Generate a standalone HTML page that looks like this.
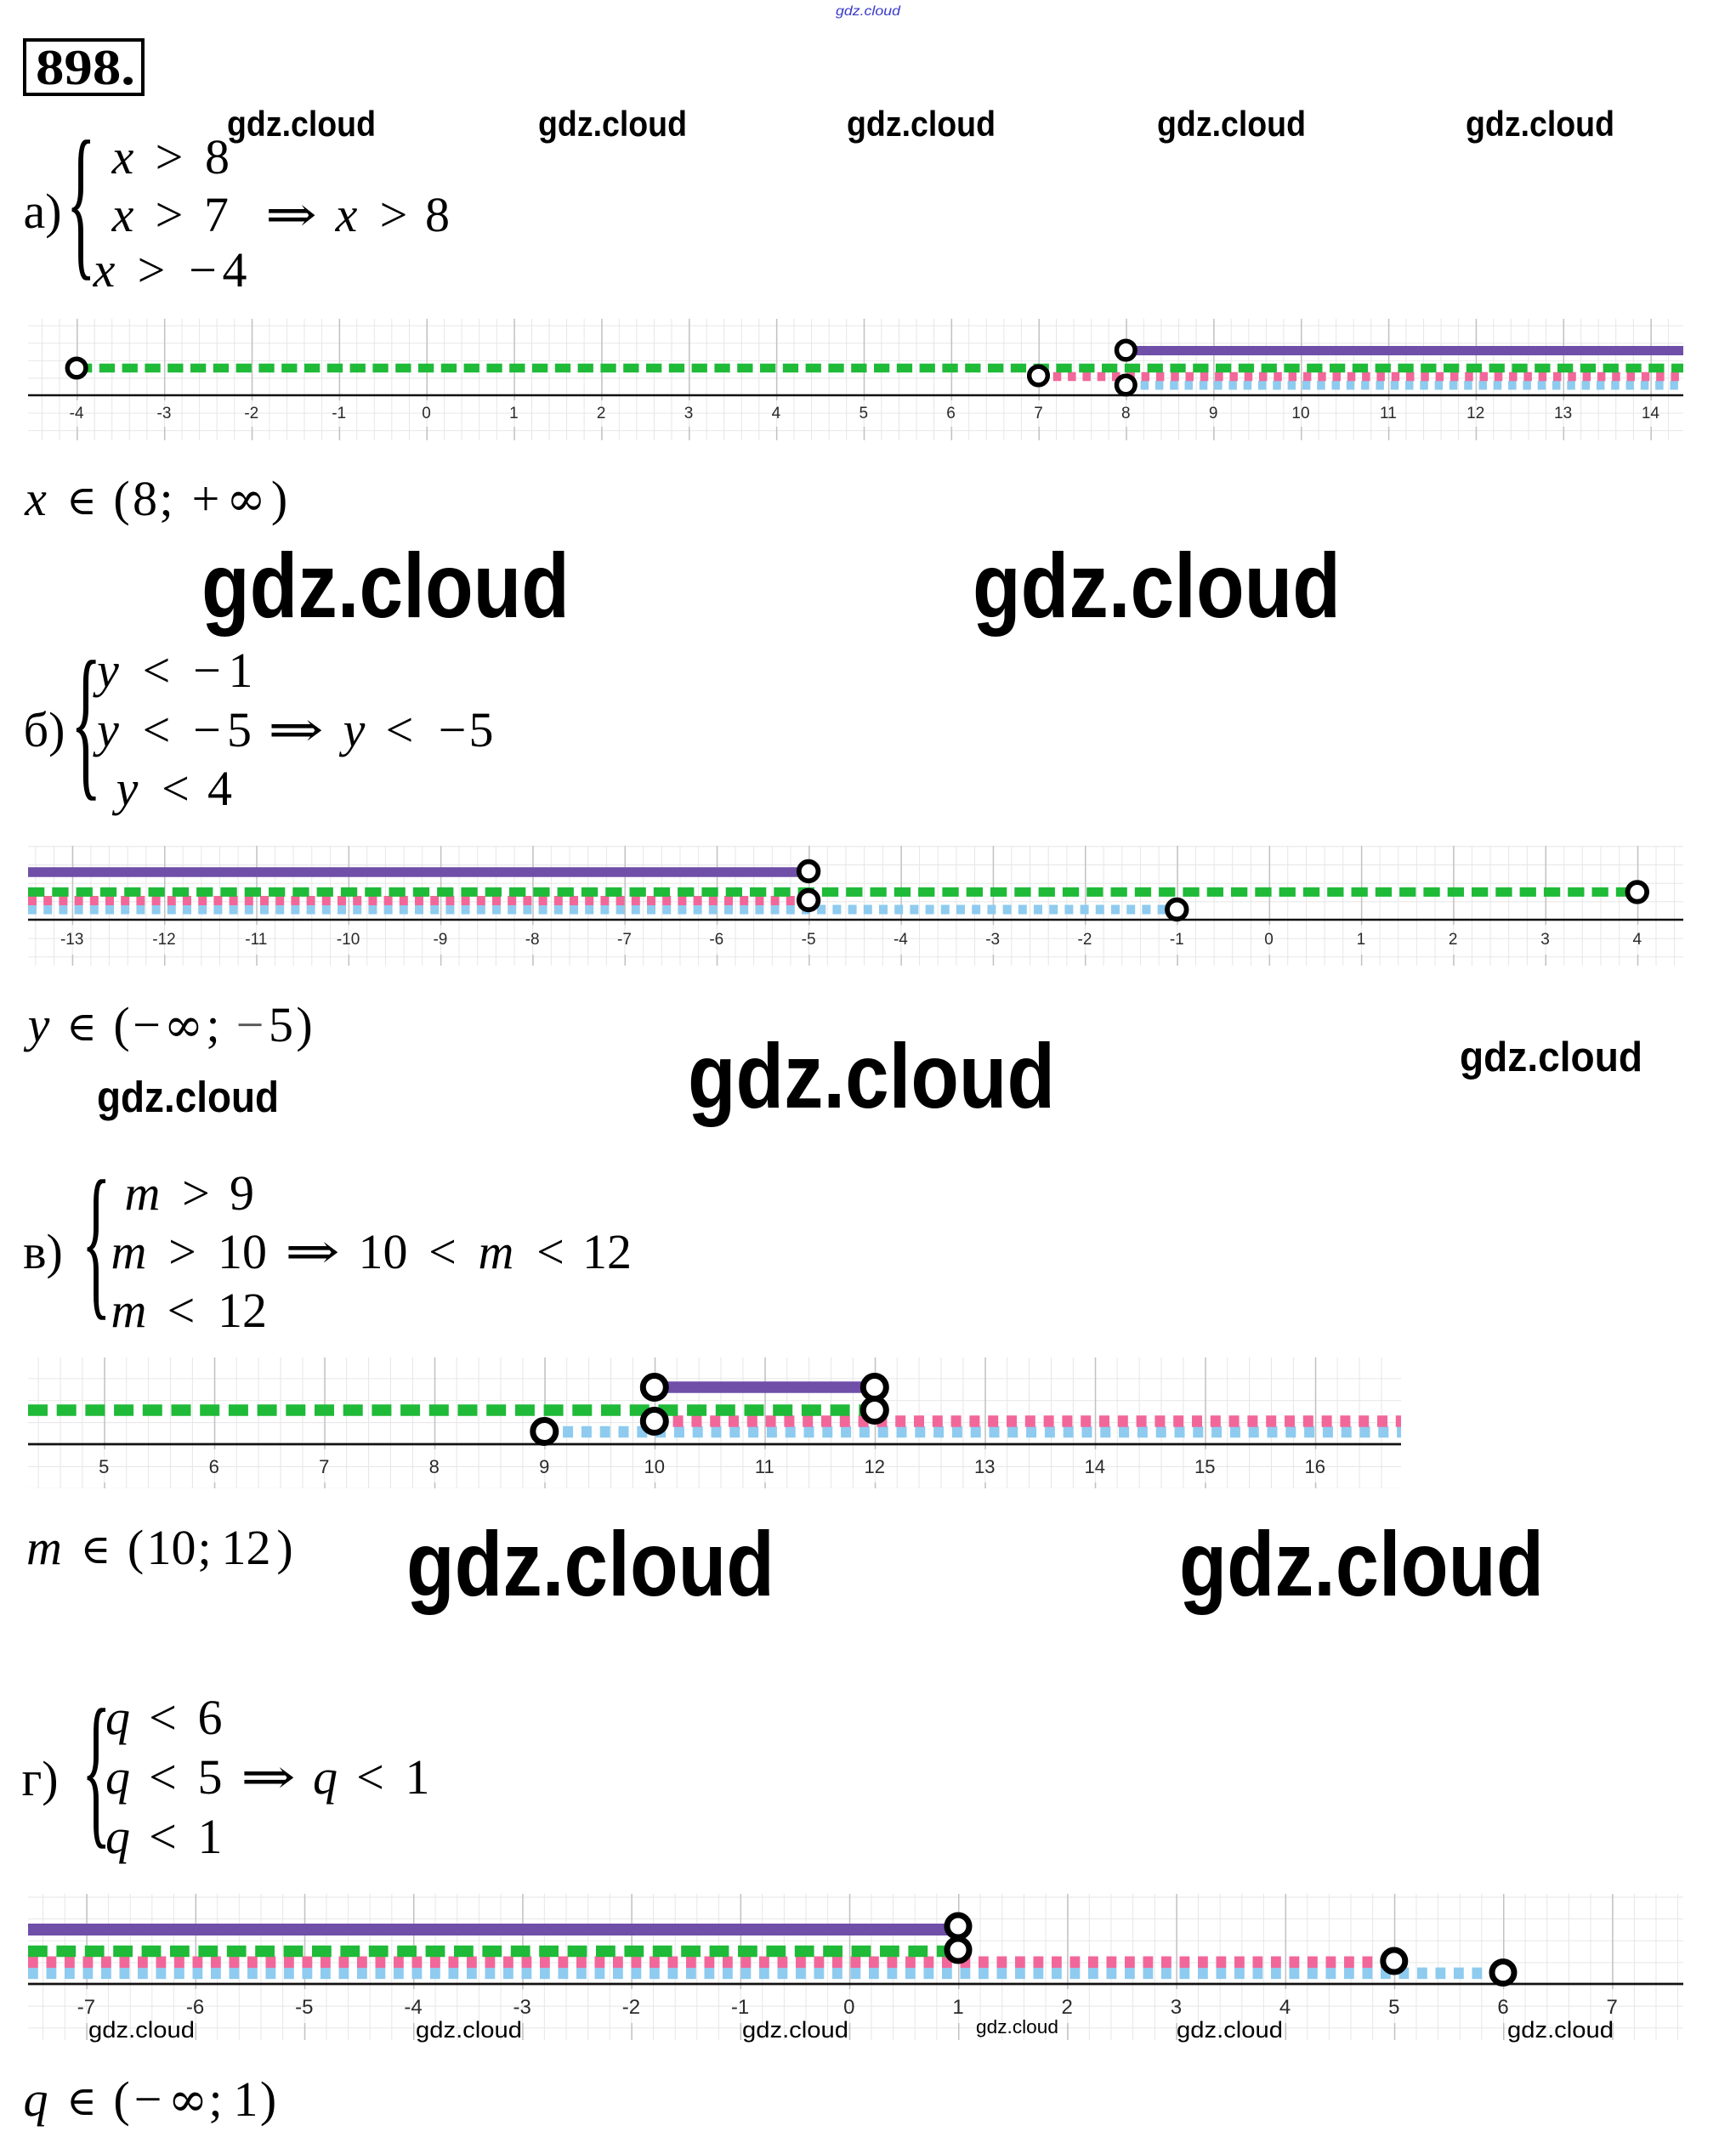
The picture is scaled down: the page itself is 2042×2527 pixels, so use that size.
<!DOCTYPE html>
<html><head><meta charset="utf-8"><style>
html,body{margin:0;padding:0;background:#fff;width:2042px;height:2527px;overflow:hidden}
svg{display:block}
.m{font-family:"Liberation Serif","DejaVu Serif",serif;font-size:58px;fill:#000}
.i{font-style:italic}
.sym{font-family:"DejaVu Serif","Liberation Serif",serif}
.inf{font-family:"DejaVu Serif","Liberation Serif",serif;font-size:56px}
.w{font-family:"Liberation Sans","DejaVu Sans",sans-serif;font-weight:bold;fill:#000}
.wn{font-family:"Liberation Sans","DejaVu Sans",sans-serif;fill:#000}
.lb{font-family:"Liberation Sans","DejaVu Sans",sans-serif;fill:#2a2a2a;text-anchor:middle}
.br{font-family:"Liberation Serif","DejaVu Serif",serif;font-size:200px;fill:#000}
</style></head><body>
<svg width="2042" height="2527" viewBox="0 0 2042 2527" xmlns="http://www.w3.org/2000/svg">
<defs>
<pattern id="ma" patternUnits="userSpaceOnUse" x="501.5" y="465" width="20.57" height="20.57"><path d="M0.5 0V20.57M0 0.5H20.57" stroke="#e6e6e6" stroke-width="1" fill="none"/></pattern>
<pattern id="Ma" patternUnits="userSpaceOnUse" x="501.5" y="0" width="102.85" height="20"><path d="M0.75 0V20" stroke="#c2c2c2" stroke-width="1.5"/></pattern>
<pattern id="mb" patternUnits="userSpaceOnUse" x="1492.6" y="1082" width="21.66" height="21.66"><path d="M0.5 0V21.66M0 0.5H21.66" stroke="#e6e6e6" stroke-width="1" fill="none"/></pattern>
<pattern id="Mb" patternUnits="userSpaceOnUse" x="1492.6" y="0" width="108.3" height="20"><path d="M0.75 0V20" stroke="#c2c2c2" stroke-width="1.5"/></pattern>
<pattern id="mc" patternUnits="userSpaceOnUse" x="122.3" y="1699" width="25.9" height="25.9"><path d="M0.5 0V25.9M0 0.5H25.9" stroke="#e6e6e6" stroke-width="1" fill="none"/></pattern>
<pattern id="Mc" patternUnits="userSpaceOnUse" x="122.3" y="0" width="129.5" height="20"><path d="M0.75 0V20" stroke="#c2c2c2" stroke-width="1.5"/></pattern>
<pattern id="md" patternUnits="userSpaceOnUse" x="998.8" y="2334" width="25.64" height="25.64"><path d="M0.5 0V25.64M0 0.5H25.64" stroke="#e6e6e6" stroke-width="1" fill="none"/></pattern>
<pattern id="Md" patternUnits="userSpaceOnUse" x="998.8" y="0" width="128.2" height="20"><path d="M0.75 0V20" stroke="#c2c2c2" stroke-width="1.5"/></pattern>
</defs>

<text x="983" y="18" font-family="Liberation Sans, sans-serif" font-size="16" font-style="italic" fill="#3a3acc" textLength="76" lengthAdjust="spacingAndGlyphs">gdz.cloud</text>

<rect x="29" y="47" width="139" height="64" fill="none" stroke="#000" stroke-width="4"/>
<text x="42" y="99" font-family="Liberation Serif, serif" font-weight="bold" font-size="59" textLength="117" lengthAdjust="spacingAndGlyphs">898.</text>

<g class="w" font-size="42">
<text x="267" y="160" textLength="175" lengthAdjust="spacingAndGlyphs">gdz.cloud</text>
<text x="633" y="160" textLength="175" lengthAdjust="spacingAndGlyphs">gdz.cloud</text>
<text x="996" y="160" textLength="175" lengthAdjust="spacingAndGlyphs">gdz.cloud</text>
<text x="1361" y="160" textLength="175" lengthAdjust="spacingAndGlyphs">gdz.cloud</text>
<text x="1724" y="160" textLength="175" lengthAdjust="spacingAndGlyphs">gdz.cloud</text>
</g>

<!-- a) -->
<text class="m" x="50" y="268" text-anchor="middle">a)</text>
<text class="br" transform="translate(78,303) scale(0.36,1)" x="0" y="0">{</text>
<g class="m" text-anchor="middle">
<text class="i" x="144.5" y="204">x</text><text x="199" y="204">&gt;</text><text x="255.5" y="204">8</text>
<text class="i" x="144.5" y="272">x</text><text x="199" y="272">&gt;</text><text x="254.5" y="272">7</text>
<text class="i" x="407.5" y="272">x</text><text x="463" y="272">&gt;</text><text x="514.5" y="272">8</text>
<text class="i" x="122.5" y="337">x</text><text x="178" y="337">&gt;</text><text x="238.5" y="337">−</text><text x="276" y="337">4</text>
</g>
<text class="m sym" x="312" y="272" textLength="61" lengthAdjust="spacingAndGlyphs">⇒</text>

<rect x="33" y="375" width="1947" height="143" fill="url(#ma)"/>
<rect x="33" y="375" width="1947" height="96" fill="url(#Ma)"/>
<rect x="33" y="502" width="1947" height="16" fill="url(#Ma)"/>
<line x1="33" y1="465" x2="1980" y2="465" stroke="#111" stroke-width="2.5"/>
<g class="lb" font-size="19">
<text x="90.1" y="492">-4</text><text x="193" y="492">-3</text><text x="295.8" y="492">-2</text><text x="398.7" y="492">-1</text><text x="501.5" y="492">0</text><text x="604.4" y="492">1</text><text x="707.2" y="492">2</text><text x="810" y="492">3</text><text x="912.9" y="492">4</text><text x="1015.8" y="492">5</text><text x="1118.6" y="492">6</text><text x="1221.5" y="492">7</text><text x="1324.3" y="492">8</text><text x="1427.2" y="492">9</text><text x="1530" y="492">10</text><text x="1632.9" y="492">11</text><text x="1735.7" y="492">12</text><text x="1838.6" y="492">13</text><text x="1941.4" y="492">14</text>
</g>
<line x1="1324.3" y1="453.3" x2="1980" y2="453.3" stroke="#8ecbef" stroke-width="10.5" stroke-dasharray="9.5 7.8"/>
<line x1="1221.5" y1="443" x2="1980" y2="443" stroke="#f2679a" stroke-width="10.5" stroke-dasharray="9.5 7.8"/>
<line x1="90" y1="433" x2="1980" y2="433" stroke="#1fba38" stroke-width="10.5" stroke-dasharray="18.3 8.5"/>
<line x1="1324.3" y1="412.5" x2="1980" y2="412.5" stroke="#6f4fa8" stroke-width="11"/>
<g fill="#fff" stroke="#000" stroke-width="5.5">
<circle cx="90.1" cy="433" r="10.8"/><circle cx="1221.5" cy="442" r="10.8"/><circle cx="1324.3" cy="412" r="10.8"/><circle cx="1324.3" cy="453" r="10.8"/>
</g>

<g class="m" text-anchor="middle">
<text class="i" x="42" y="606">x</text><text x="143" y="606">(</text><text x="170.5" y="606">8</text><text x="195.5" y="606">;</text><text x="242" y="606">+</text><text class="inf" x="289.5" y="606">∞</text><text x="328.5" y="606">)</text>
</g>
<text class="sym" x="96" y="605" font-size="48" text-anchor="middle">∈</text>

<g class="w" font-size="108">
<text x="237" y="726" textLength="433" lengthAdjust="spacingAndGlyphs">gdz.cloud</text>
<text x="1144" y="726" textLength="433" lengthAdjust="spacingAndGlyphs">gdz.cloud</text>
<text x="809" y="1303" textLength="432" lengthAdjust="spacingAndGlyphs">gdz.cloud</text>
<text x="478" y="1877" textLength="433" lengthAdjust="spacingAndGlyphs">gdz.cloud</text>
<text x="1387" y="1877" textLength="429" lengthAdjust="spacingAndGlyphs">gdz.cloud</text>
</g>
<text class="w" x="114" y="1308" font-size="51" textLength="214" lengthAdjust="spacingAndGlyphs">gdz.cloud</text>
<text class="w" x="1717" y="1260" font-size="49" textLength="215" lengthAdjust="spacingAndGlyphs">gdz.cloud</text>

<!-- б) -->
<text class="m" x="52" y="878" text-anchor="middle">б)</text>
<text class="br" transform="translate(83,915) scale(0.38,1)" x="0" y="0">{</text>
<g class="m" text-anchor="middle">
<text class="i" x="127" y="808">y</text><text x="184" y="808">&lt;</text><text x="243.5" y="808">−</text><text x="283" y="808">1</text>
<text class="i" x="127" y="878">y</text><text x="184" y="878">&lt;</text><text x="243.5" y="878">−</text><text x="281.5" y="878">5</text>
<text class="i" x="416.5" y="878">y</text><text x="470" y="878">&lt;</text><text x="532" y="878">−</text><text x="566" y="878">5</text>
<text class="i" x="149.5" y="947">y</text><text x="206.5" y="947">&lt;</text><text x="258.5" y="947">4</text>
</g>
<text class="m sym" x="315" y="878" textLength="66" lengthAdjust="spacingAndGlyphs">⇒</text>

<rect x="33" y="995" width="1947" height="141" fill="url(#mb)"/>
<rect x="33" y="995" width="1947" height="93" fill="url(#Mb)"/>
<rect x="33" y="1123" width="1947" height="13" fill="url(#Mb)"/>
<line x1="33" y1="1082" x2="1980" y2="1082" stroke="#111" stroke-width="2.5"/>
<g class="lb" font-size="19">
<text x="84.7" y="1111">-13</text><text x="193" y="1111">-12</text><text x="301.3" y="1111">-11</text><text x="409.6" y="1111">-10</text><text x="517.9" y="1111">-9</text><text x="626.2" y="1111">-8</text><text x="734.5" y="1111">-7</text><text x="842.8" y="1111">-6</text><text x="951.1" y="1111">-5</text><text x="1059.4" y="1111">-4</text><text x="1167.7" y="1111">-3</text><text x="1276" y="1111">-2</text><text x="1384.3" y="1111">-1</text><text x="1492.6" y="1111">0</text><text x="1600.9" y="1111">1</text><text x="1709.2" y="1111">2</text><text x="1817.5" y="1111">3</text><text x="1925.8" y="1111">4</text>
</g>
<line x1="33" y1="1070" x2="1384.3" y2="1070" stroke="#8ecbef" stroke-width="11" stroke-dasharray="10 8.2"/>
<line x1="33" y1="1059.5" x2="951.1" y2="1059.5" stroke="#f2679a" stroke-width="11" stroke-dasharray="10 8.2"/>
<line x1="33" y1="1049.4" x2="1925.8" y2="1049.4" stroke="#1fba38" stroke-width="11" stroke-dasharray="19.3 9"/>
<line x1="33" y1="1026" x2="951.1" y2="1026" stroke="#6f4fa8" stroke-width="11.5"/>
<g fill="#fff" stroke="#000" stroke-width="5.8">
<circle cx="951.1" cy="1025" r="11.3"/><circle cx="951.1" cy="1059" r="11.3"/><circle cx="1384.3" cy="1070" r="11.3"/><circle cx="1925.8" cy="1049.4" r="11.3"/>
</g>

<g class="m" text-anchor="middle">
<text class="i" x="45.5" y="1225">y</text><text x="143" y="1225">(</text><text x="172.5" y="1225">−</text><text class="inf" x="216" y="1225">∞</text><text x="250.5" y="1225">;</text><text x="294" y="1225" fill="#555">−</text><text x="330.5" y="1225">5</text><text x="358" y="1225">)</text>
</g>
<text class="sym" x="96" y="1224" font-size="48" text-anchor="middle">∈</text>

<!-- в) -->
<text class="m" x="50.5" y="1492" text-anchor="middle">в)</text>
<text class="br" transform="translate(96,1526) scale(0.36,1)" x="0" y="0">{</text>
<g class="m" text-anchor="middle">
<text class="i" x="167.5" y="1423">m</text><text x="230.5" y="1423">&gt;</text><text x="284.5" y="1423">9</text>
<text class="i" x="151.5" y="1492">m</text><text x="214.5" y="1492">&gt;</text><text x="285" y="1492">10</text>
<text x="450.5" y="1492">10</text><text x="520.5" y="1492">&lt;</text><text class="i" x="583.5" y="1492">m</text><text x="647.5" y="1492">&lt;</text><text x="714" y="1492">12</text>
<text class="i" x="151.5" y="1561">m</text><text x="213" y="1561">&lt;</text><text x="285" y="1561">12</text>
</g>
<text class="m sym" x="335" y="1492" textLength="65" lengthAdjust="spacingAndGlyphs">⇒</text>

<rect x="33" y="1597" width="1615" height="154" fill="url(#mc)"/>
<rect x="33" y="1597" width="1615" height="108" fill="url(#Mc)"/>
<rect x="33" y="1744" width="1615" height="7" fill="url(#Mc)"/>
<line x1="33" y1="1699" x2="1648" y2="1699" stroke="#111" stroke-width="2.8"/>
<g class="lb" font-size="22">
<text x="122.3" y="1733">5</text><text x="251.8" y="1733">6</text><text x="381.3" y="1733">7</text><text x="510.8" y="1733">8</text><text x="640.3" y="1733">9</text><text x="769.8" y="1733">10</text><text x="899.3" y="1733">11</text><text x="1028.8" y="1733">12</text><text x="1158.3" y="1733">13</text><text x="1287.8" y="1733">14</text><text x="1417.3" y="1733">15</text><text x="1546.8" y="1733">16</text>
</g>
<line x1="640.3" y1="1684.5" x2="1648" y2="1684.5" stroke="#8ecbef" stroke-width="13.5" stroke-dasharray="12 9.8"/>
<line x1="769.8" y1="1672" x2="1648" y2="1672" stroke="#f2679a" stroke-width="13.5" stroke-dasharray="12 9.8"/>
<line x1="33" y1="1659" x2="1028.8" y2="1659" stroke="#1fba38" stroke-width="13.5" stroke-dasharray="23 10.7"/>
<line x1="769.8" y1="1632" x2="1028.8" y2="1632" stroke="#6f4fa8" stroke-width="13.5"/>
<g fill="#fff" stroke="#000" stroke-width="7">
<circle cx="769.8" cy="1632" r="13.5"/><circle cx="769.8" cy="1672" r="13.5"/><circle cx="640.3" cy="1684" r="13.5"/><circle cx="1028.8" cy="1632" r="13.5"/><circle cx="1028.8" cy="1659" r="13.5"/>
</g>

<g class="m" text-anchor="middle">
<text class="i" x="52" y="1840">m</text><text x="159.5" y="1840">(</text><text x="201.5" y="1840">10</text><text x="240.5" y="1840">;</text><text x="289.5" y="1840">12</text><text x="335" y="1840">)</text>
</g>
<text class="sym" x="112.5" y="1839" font-size="48" text-anchor="middle">∈</text>

<!-- г) -->
<text class="m" x="47" y="2112" text-anchor="middle">г)</text>
<text class="br" transform="translate(96,2148) scale(0.36,1)" x="0" y="0">{</text>
<g class="m" text-anchor="middle">
<text class="i" x="138.5" y="2040">q</text><text x="191.5" y="2040">&lt;</text><text x="247" y="2040">6</text>
<text class="i" x="138.5" y="2110">q</text><text x="191.5" y="2110">&lt;</text><text x="247" y="2110">5</text>
<text class="i" x="382.5" y="2110">q</text><text x="435.5" y="2110">&lt;</text><text x="491" y="2110">1</text>
<text class="i" x="138.5" y="2180">q</text><text x="191.5" y="2180">&lt;</text><text x="247" y="2180">1</text>
</g>
<text class="m sym" x="283" y="2110" textLength="65" lengthAdjust="spacingAndGlyphs">⇒</text>

<rect x="33" y="2228" width="1947" height="172" fill="url(#md)"/>
<rect x="33" y="2228" width="1947" height="112" fill="url(#Md)"/>
<rect x="33" y="2380" width="1947" height="20" fill="url(#Md)"/>
<line x1="33" y1="2334" x2="1980" y2="2334" stroke="#111" stroke-width="2.8"/>
<g class="lb" font-size="24">
<text x="101.4" y="2369">-7</text><text x="229.6" y="2369">-6</text><text x="357.8" y="2369">-5</text><text x="486" y="2369">-4</text><text x="614.2" y="2369">-3</text><text x="742.4" y="2369">-2</text><text x="870.6" y="2369">-1</text><text x="998.8" y="2369">0</text><text x="1127" y="2369">1</text><text x="1255.2" y="2369">2</text><text x="1383.4" y="2369">3</text><text x="1511.6" y="2369">4</text><text x="1639.8" y="2369">5</text><text x="1768" y="2369">6</text><text x="1896.2" y="2369">7</text>
</g>
<line x1="33" y1="2321.4" x2="1768" y2="2321.4" stroke="#8ecbef" stroke-width="13.5" stroke-dasharray="11.8 9.7"/>
<line x1="33" y1="2308.3" x2="1639.8" y2="2308.3" stroke="#f2679a" stroke-width="13.5" stroke-dasharray="11.8 9.7"/>
<line x1="33" y1="2295.5" x2="1127" y2="2295.5" stroke="#1fba38" stroke-width="13.5" stroke-dasharray="22.8 10.6"/>
<line x1="33" y1="2270" x2="1127" y2="2270" stroke="#6f4fa8" stroke-width="14"/>
<g fill="#fff" stroke="#000" stroke-width="7">
<circle cx="1127" cy="2266" r="13"/><circle cx="1127" cy="2294" r="13"/><circle cx="1639.8" cy="2307" r="13"/><circle cx="1768" cy="2320.6" r="13"/>
</g>
<g class="wn" font-size="27">
<text x="104" y="2397" textLength="125" lengthAdjust="spacingAndGlyphs">gdz.cloud</text>
<text x="489" y="2397" textLength="125" lengthAdjust="spacingAndGlyphs">gdz.cloud</text>
<text x="873" y="2397" textLength="125" lengthAdjust="spacingAndGlyphs">gdz.cloud</text>
<text x="1384" y="2397" textLength="125" lengthAdjust="spacingAndGlyphs">gdz.cloud</text>
<text x="1773" y="2397" textLength="125" lengthAdjust="spacingAndGlyphs">gdz.cloud</text>
</g>
<text class="wn" x="1148" y="2392" font-size="22" textLength="97" lengthAdjust="spacingAndGlyphs">gdz.cloud</text>

<g class="m" text-anchor="middle">
<text class="i" x="42" y="2489">q</text><text x="143" y="2489">(</text><text x="174" y="2489">−</text><text class="inf" x="221" y="2489">∞</text><text x="253.5" y="2489">;</text><text x="289" y="2489">1</text><text x="315.5" y="2489">)</text>
</g>
<text class="sym" x="96" y="2488" font-size="48" text-anchor="middle">∈</text>
</svg>
</body></html>
